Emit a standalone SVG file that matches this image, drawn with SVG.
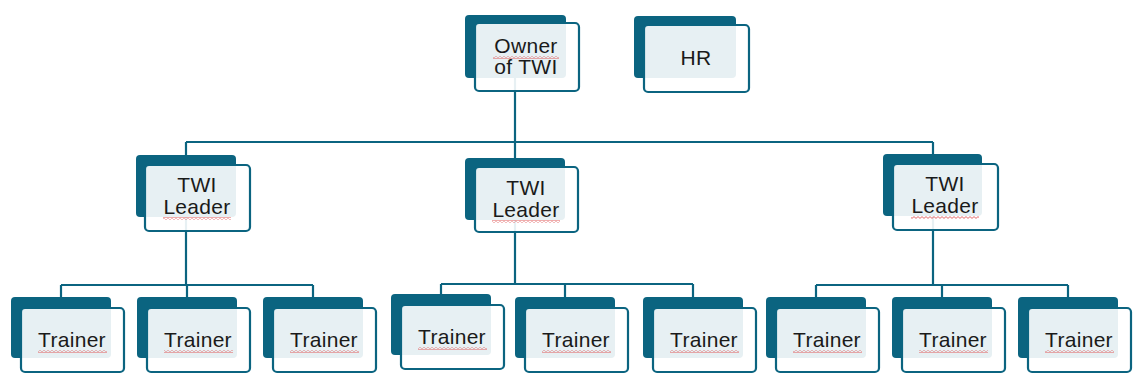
<svg xmlns="http://www.w3.org/2000/svg" width="1138" height="392" viewBox="0 0 1138 392">
  <style>
    .back { fill: #0b6480; }
    .front { fill: #ffffff; fill-opacity: 0.9; stroke: #0b6480; stroke-width: 2.2; }
    .lbl { font-family: "Liberation Sans", Arial, sans-serif; font-size: 21px; letter-spacing: 0.3px; fill: #1a1a1a; text-anchor: middle; }
    .wire { fill: none; stroke: #0b6480; stroke-width: 2.2; }
    .squig { fill: url(#squiggle); }
  </style>
  <defs>
    <!-- spell-check style wavy underline -->
    <pattern id="squiggle" width="4" height="3" patternUnits="userSpaceOnUse">
      <path d="M0 2.4 L2 0.6 L4 2.4" fill="none" stroke="#e05a5a" stroke-width="0.9"/>
    </pattern>
  </defs>
  <rect width="1138" height="392" fill="#ffffff"/>

  <!-- connectors (drawn beneath the boxes) -->
  <g id="connectors">
    <path class="wire" d="M515 46 V142 M186 142 H933 M186 142 V180 M515 142 V180 M933 142 V180"/>
    <path class="wire" d="M186 186 V285 M61 285 H313 M61 285 V320 M187 285 V320 M313 285 V320"/>
    <path class="wire" d="M515 189 V284 M441 284 H693 M441 284 V320 M565 284 V320 M693 284 V320"/>
    <path class="wire" d="M933 185 V285 M816 285 H1068 M816 285 V320 M942 285 V320 M1068 285 V320"/>
  </g>

  <g id="owner">
    <rect class="back" x="465" y="15" width="101" height="63" rx="4"/>
    <rect class="front" x="475" y="23" width="104" height="68" rx="4"/>
    <text class="lbl" x="526" y="53">Owner</text>
    <text class="lbl" x="526" y="74">of TWI</text>
    <rect class="squig" x="493" y="56" width="66" height="3"/>
  </g>

  <g id="hr">
    <rect class="back" x="634" y="16" width="102" height="62" rx="4"/>
    <rect class="front" x="644" y="25" width="105" height="67" rx="4"/>
    <text class="lbl" x="696" y="65">HR</text>
  </g>

  <g id="leader-1">
    <rect class="back" x="136" y="155" width="100" height="62" rx="4"/>
    <rect class="front" x="145" y="165" width="105" height="66" rx="4"/>
    <text class="lbl" x="197" y="192">TWI</text>
    <text class="lbl" x="197" y="214">Leader</text>
    <rect class="squig" x="163" y="217" width="68" height="3"/>
  </g>

  <g id="leader-2">
    <rect class="back" x="465" y="158" width="100" height="62" rx="4"/>
    <rect class="front" x="475" y="167" width="103" height="65" rx="4"/>
    <text class="lbl" x="526" y="195">TWI</text>
    <text class="lbl" x="526" y="217">Leader</text>
    <rect class="squig" x="492" y="220" width="68" height="3"/>
  </g>

  <g id="leader-3">
    <rect class="back" x="883" y="154" width="99" height="62" rx="4"/>
    <rect class="front" x="893" y="164" width="105" height="66" rx="4"/>
    <text class="lbl" x="945" y="191">TWI</text>
    <text class="lbl" x="945" y="213">Leader</text>
    <rect class="squig" x="911" y="216" width="68" height="3"/>
  </g>

  <!-- trainers under leader 1 -->
  <g id="trainer-1a">
    <rect class="back" x="11" y="297" width="100" height="61" rx="4"/>
    <rect class="front" x="21" y="308" width="103" height="64" rx="4"/>
    <text class="lbl" x="72" y="347">Trainer</text>
    <rect class="squig" x="38" y="350" width="69" height="3"/>
  </g>
  <g id="trainer-1b">
    <rect class="back" x="137" y="297" width="100" height="61" rx="4"/>
    <rect class="front" x="147" y="308" width="103" height="64" rx="4"/>
    <text class="lbl" x="198" y="347">Trainer</text>
    <rect class="squig" x="164" y="350" width="69" height="3"/>
  </g>
  <g id="trainer-1c">
    <rect class="back" x="263" y="297" width="100" height="61" rx="4"/>
    <rect class="front" x="273" y="308" width="103" height="64" rx="4"/>
    <text class="lbl" x="324" y="347">Trainer</text>
    <rect class="squig" x="290" y="350" width="69" height="3"/>
  </g>

  <!-- trainers under leader 2 -->
  <g id="trainer-2a">
    <rect class="back" x="391" y="294" width="100" height="61" rx="4"/>
    <rect class="front" x="401" y="305" width="103" height="64" rx="4"/>
    <text class="lbl" x="452" y="344">Trainer</text>
    <rect class="squig" x="418" y="347" width="69" height="3"/>
  </g>
  <g id="trainer-2b">
    <rect class="back" x="515" y="297" width="100" height="61" rx="4"/>
    <rect class="front" x="525" y="308" width="103" height="64" rx="4"/>
    <text class="lbl" x="576" y="347">Trainer</text>
    <rect class="squig" x="542" y="350" width="69" height="3"/>
  </g>
  <g id="trainer-2c">
    <rect class="back" x="643" y="297" width="100" height="61" rx="4"/>
    <rect class="front" x="653" y="308" width="103" height="64" rx="4"/>
    <text class="lbl" x="704" y="347">Trainer</text>
    <rect class="squig" x="670" y="350" width="69" height="3"/>
  </g>

  <!-- trainers under leader 3 -->
  <g id="trainer-3a">
    <rect class="back" x="766" y="297" width="100" height="61" rx="4"/>
    <rect class="front" x="776" y="308" width="103" height="64" rx="4"/>
    <text class="lbl" x="827" y="347">Trainer</text>
    <rect class="squig" x="793" y="350" width="69" height="3"/>
  </g>
  <g id="trainer-3b">
    <rect class="back" x="892" y="297" width="100" height="61" rx="4"/>
    <rect class="front" x="902" y="308" width="103" height="64" rx="4"/>
    <text class="lbl" x="953" y="347">Trainer</text>
    <rect class="squig" x="919" y="350" width="69" height="3"/>
  </g>
  <g id="trainer-3c">
    <rect class="back" x="1018" y="297" width="100" height="61" rx="4"/>
    <rect class="front" x="1028" y="308" width="103" height="64" rx="4"/>
    <text class="lbl" x="1079" y="347">Trainer</text>
    <rect class="squig" x="1045" y="350" width="69" height="3"/>
  </g>
</svg>
